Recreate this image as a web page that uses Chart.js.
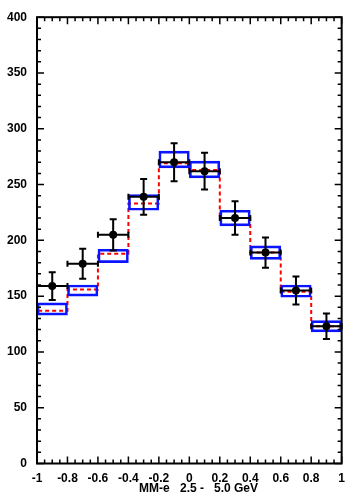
<!DOCTYPE html>
<html>
<head>
<meta charset="utf-8">
<script src="https://cdn.jsdelivr.net/npm/chart.js@4/dist/chart.umd.min.js"></script>
<style>
  html, body { margin: 0; padding: 0; background: #fff; }
  #wrap { width: 353px; height: 493px; position: relative; }
</style>
</head>
<body>
<div id="wrap"><canvas id="chart" width="353" height="493"></canvas></div>
<script>
// bin centres (cos theta), bin width 0.2
const binCenters = [-0.9, -0.7, -0.5, -0.3, -0.1, 0.1, 0.3, 0.5, 0.7, 0.9];
// measured points and their errors
const dataValues = [159, 179, 205, 239, 270, 262, 220, 189, 155, 123];
const dataErrors = [12.5, 13.5, 14, 16, 17, 16.5, 15, 13.5, 12.5, 11.5];
// blue systematic band
const bandLow  = [133, 150, 180, 227, 265, 256, 213, 183, 149, 118];
const bandHigh = [144, 160, 192, 241, 280, 271, 227, 195, 160, 128];
// red dashed simulation
const simValues = [137, 156, 188, 233, 269, 263, 220, 189, 154, 123];

const xTickLabels = [-1, -0.8, -0.6, -0.4, -0.2, 0, 0.2, 0.4, 0.6, 0.8, 1];
const yTickLabels = [0, 50, 100, 150, 200, 250, 300, 350, 400];
const binHalf = 0.1;

const FONT = '"Liberation Sans", Arial, sans-serif';

class HistoChart {
    constructor(canvas) {
        this.canvas = canvas;
        if (!this.canvas) {
            return
        }
        this.init();
    }

    init() {
        this.showChart();
    }

    // step outline for the red histogram, from bin edges
    simPoints() {
        const pts = [{x: binCenters[0] - binHalf, y: 0}];
        binCenters.forEach((c, i) => {
            pts.push({x: c - binHalf, y: simValues[i]});
            pts.push({x: c + binHalf, y: simValues[i]});
        });
        return pts;
    }

    showChart() {
        const errorBars = {
            id: 'errorBars',
            afterDatasetDraw(chart, args) {
                if (args.meta.type !== 'bar') return;
                const {ctx, scales: {x, y}} = chart;
                ctx.save();
                ctx.strokeStyle = '#000';
                ctx.lineWidth = 2;
                binCenters.forEach((c, i) => {
                    const px = x.getPixelForValue(c);
                    const py = y.getPixelForValue(dataValues[i]);
                    const x0 = x.getPixelForValue(c - binHalf);
                    const x1 = x.getPixelForValue(c + binHalf);
                    const yt = y.getPixelForValue(dataValues[i] + dataErrors[i]);
                    const yb = y.getPixelForValue(dataValues[i] - dataErrors[i]);
                    ctx.beginPath();
                    ctx.moveTo(x0, py); ctx.lineTo(x1, py);
                    ctx.moveTo(x0, py - 3); ctx.lineTo(x0, py + 3);
                    ctx.moveTo(x1, py - 3); ctx.lineTo(x1, py + 3);
                    ctx.moveTo(px, yt); ctx.lineTo(px, yb);
                    ctx.moveTo(px - 3.5, yt); ctx.lineTo(px + 3.5, yt);
                    ctx.moveTo(px - 3.5, yb); ctx.lineTo(px + 3.5, yb);
                    ctx.stroke();
                });
                ctx.restore();
            }
        };

        const frame = {
            id: 'frame',
            afterDraw(chart) {
                const {ctx, chartArea: a, scales: {x, y}} = chart;
                ctx.save();
                ctx.strokeStyle = '#000';
                ctx.lineWidth = 1.5;
                ctx.beginPath();
                for (let v = -1; v <= 1.0001; v += 0.05) {
                    const major = Math.abs(v * 5 - Math.round(v * 5)) < 1e-6;
                    const len = major ? 7 : 4;
                    const px = x.getPixelForValue(v);
                    ctx.moveTo(px, a.bottom); ctx.lineTo(px, a.bottom - len);
                    ctx.moveTo(px, a.top); ctx.lineTo(px, a.top + len);
                }
                for (let v = 0; v <= 400; v += 10) {
                    const len = v % 50 === 0 ? 7 : 4;
                    const py = y.getPixelForValue(v);
                    ctx.moveTo(a.left, py); ctx.lineTo(a.left + len, py);
                    ctx.moveTo(a.right, py); ctx.lineTo(a.right - len, py);
                }
                ctx.stroke();
                ctx.lineWidth = 2;
                ctx.strokeRect(a.left, a.top, a.right - a.left, a.bottom - a.top);
                ctx.fillStyle = '#000';
                ctx.font = 'bold 12px ' + FONT;
                ctx.textBaseline = 'alphabetic';
                ctx.textAlign = 'left';
                ctx.fillText('MM-e', 139, 492);
                ctx.fillText('2.5 -   5.0 GeV', 180, 492);
                ctx.restore();
            }
        };

        new Chart(this.canvas, {
            type: 'bar',
            data: {
                datasets: [{
                    type: 'scatter',
                    order: 0,
                    data: binCenters.map((c, i) => ({x: c, y: dataValues[i]})),
                    pointRadius: 4,
                    pointBackgroundColor: '#000',
                    pointBorderColor: '#000',
                    pointBorderWidth: 0
                }, {
                    type: 'bar',
                    order: 1,
                    data: binCenters.map((c, i) => ({x: c, y: [bandLow[i], bandHigh[i]]})),
                    backgroundColor: 'rgba(0,0,0,0)',
                    borderColor: '#0a14ff',
                    borderWidth: 2,
                    borderSkipped: false,
                    barPercentage: 1,
                    categoryPercentage: 1
                }, {
                    type: 'line',
                    order: 2,
                    data: this.simPoints(),
                    borderColor: '#ff0000',
                    borderWidth: 2,
                    borderDash: [4, 3],
                    pointRadius: 0,
                    tension: 0,
                    fill: false
                }]
            },
            options: {
                responsive: false,
                animation: false,
                events: [],
                layout: {padding: {top: 17, right: 1, left: 0, bottom: 0}},
                plugins: {legend: {display: false}, tooltip: {enabled: false}},
                scales: {
                    x: {
                        type: 'linear',
                        offset: false,
                        min: -1,
                        max: 1,
                        grid: {display: false, drawTicks: false},
                        border: {display: false},
                        afterBuildTicks: s => { s.ticks = xTickLabels.map(v => ({value: v})); },
                        afterFit: s => { s.height = 29.5; },
                        ticks: {
                            padding: 8,
                            maxRotation: 0,
                            color: '#000',
                            font: {family: FONT, size: 12, weight: 'bold'},
                            callback: v => String(v)
                        }
                    },
                    y: {
                        min: 0,
                        max: 400,
                        grid: {display: false, drawTicks: false},
                        border: {display: false},
                        afterBuildTicks: s => { s.ticks = yTickLabels.map(v => ({value: v})); },
                        afterFit: s => { s.width = 37; },
                        ticks: {
                            padding: 10,
                            color: '#000',
                            font: {family: FONT, size: 12, weight: 'bold'}
                        }
                    }
                }
            },
            plugins: [errorBars, frame]
        });
    }
}

document.addEventListener('DOMContentLoaded', () => {
    new HistoChart(document.getElementById('chart'));
});
</script>
</body>
</html>
